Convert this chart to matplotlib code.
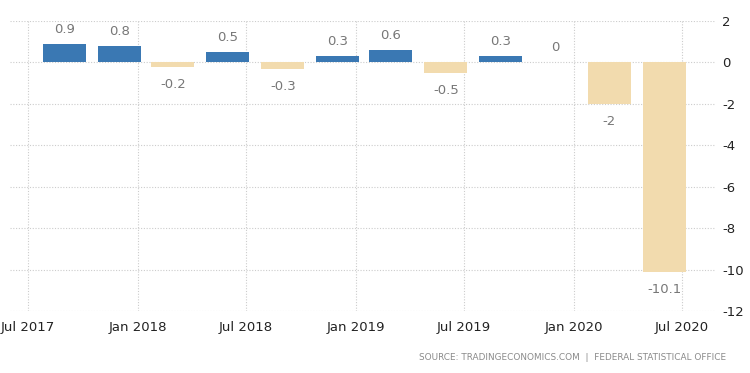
import matplotlib
matplotlib.use("Agg")
import matplotlib.pyplot as plt
import matplotlib.dates as mdates
from datetime import datetime

# Data
quarters = ["2017-09-01", "2017-12-01", "2018-03-01", "2018-06-01", "2018-09-01",
            "2018-12-01", "2019-03-01", "2019-06-01", "2019-09-01", "2019-12-01",
            "2020-03-01", "2020-06-01"]
values = [0.9, 0.8, -0.2, 0.5, -0.3, 0.3, 0.6, -0.5, 0.3, 0, -2, -10.1]
labels = ["0.9", "0.8", "-0.2", "0.5", "-0.3", "0.3", "0.6", "-0.5", "0.3", "0", "-2", "-10.1"]
xtick_dates = ["2017-07-01", "2018-01-01", "2018-07-01", "2019-01-01", "2019-07-01",
               "2020-01-01", "2020-07-01"]
xtick_labels = ["Jul 2017", "Jan 2018", "Jul 2018", "Jan 2019", "Jul 2019", "Jan 2020", "Jul 2020"]
yticks = [2, 0, -2, -4, -6, -8, -10, -12]

BLUE = "#3a78b3"
BEIGE = "#f2dbae"

dates = [mdates.date2num(datetime.strptime(d, "%Y-%m-%d")) for d in quarters]
xt = [mdates.date2num(datetime.strptime(d, "%Y-%m-%d")) for d in xtick_dates]

fig = plt.figure(figsize=(7.5, 3.73), dpi=100)
ax = fig.add_axes([10/750, 1-311/373, (715-10)/750, (311-21)/373])

colors = [BLUE if v > 0 else BEIGE for v in values]
ax.bar(dates, values, width=72, color=colors, zorder=3)

for x, v, lab in zip(dates, values, labels):
    if v >= 0:
        ax.annotate(lab, (x, v), xytext=(0, 10.5), textcoords="offset points",
                    ha="center", va="center", fontsize=9.5, color="#777777")
    else:
        ax.annotate(lab, (x, v), xytext=(0, -13), textcoords="offset points",
                    ha="center", va="center", fontsize=9.5, color="#777777")

ax.set_ylim(-12, 2)
ax.set_xlim(mdates.date2num(datetime(2017, 6, 1)), mdates.date2num(datetime(2020, 8, 25)))
ax.set_yticks(yticks)
ax.set_yticklabels([str(t) for t in yticks])
ax.yaxis.tick_right()
ax.set_xticks(xt)
ax.set_xticklabels(xtick_labels)
ax.tick_params(axis="both", length=0, labelsize=9.5, labelcolor="#222222")
ax.tick_params(axis="y", pad=5)
ax.tick_params(axis="x", pad=7)
for lab in ax.get_yticklabels():
    lab.set_horizontalalignment("left")

ax.grid(True, color="#cccccc", linestyle=(0, (1, 1.5)), linewidth=0.8, zorder=0)
for s in ax.spines.values():
    s.set_visible(False)

fig.text(726/750, 1-357/373, "SOURCE: TRADINGECONOMICS.COM  |  FEDERAL STATISTICAL OFFICE",
         ha="right", va="center", fontsize=6.4, color="#8a8a8a")

fig.savefig("out.png", dpi=100)
